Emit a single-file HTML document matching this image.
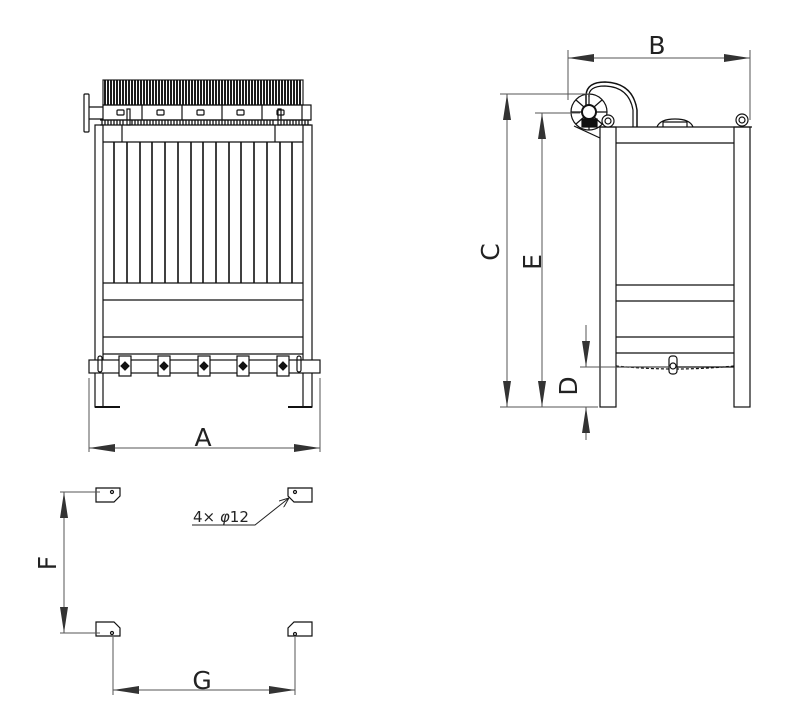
<!DOCTYPE html>
<html><head><meta charset="utf-8"><style>
html,body{margin:0;padding:0;background:#fff}
svg{display:block}
text{font-family:"DejaVu Sans","Liberation Sans",sans-serif;fill:#222}
</style></head><body>
<svg width="800" height="714" viewBox="0 0 800 714" xmlns="http://www.w3.org/2000/svg">
<defs>
<marker id="ar" markerWidth="26" markerHeight="8" refX="26" refY="4" orient="auto-start-reverse" markerUnits="userSpaceOnUse">
<path d="M0,0 L26,4 L0,8 Z" fill="#333"/></marker>
<marker id="sa" markerWidth="10" markerHeight="8" refX="10" refY="4" orient="auto" markerUnits="userSpaceOnUse">
<path d="M0,0 L10,4 L0,8" fill="none" stroke="#222" stroke-width="1"/></marker>
</defs>
<g fill="none" stroke="#111" stroke-width="1.2">
<!-- FRONT VIEW -->
<rect x="103" y="80" width="200" height="25" fill="#fff" stroke="#222"/>
<path d="M105,80 V105 M108,80 V105 M111,80 V105 M114,80 V105 M117,80 V105 M120,80 V105 M123,80 V105 M126,80 V105 M129,80 V105 M132,80 V105 M135,80 V105 M138,80 V105 M141,80 V105 M144,80 V105 M147,80 V105 M150,80 V105 M153,80 V105 M156,80 V105 M159,80 V105 M162,80 V105 M165,80 V105 M168,80 V105 M171,80 V105 M174,80 V105 M177,80 V105 M180,80 V105 M183,80 V105 M186,80 V105 M189,80 V105 M192,80 V105 M195,80 V105 M198,80 V105 M201,80 V105 M204,80 V105 M207,80 V105 M210,80 V105 M213,80 V105 M216,80 V105 M219,80 V105 M222,80 V105 M225,80 V105 M228,80 V105 M231,80 V105 M234,80 V105 M237,80 V105 M240,80 V105 M243,80 V105 M246,80 V105 M249,80 V105 M252,80 V105 M255,80 V105 M258,80 V105 M261,80 V105 M264,80 V105 M267,80 V105 M270,80 V105 M273,80 V105 M276,80 V105 M279,80 V105 M282,80 V105 M285,80 V105 M288,80 V105 M291,80 V105 M294,80 V105 M297,80 V105 M300,80 V105" stroke="#111" stroke-width="1.9"/>
<rect x="103" y="105" width="208" height="15"/>
<path d="M142,105V120 M182,105V120 M222,105V120 M262,105V120 M302,105V120"/>
<rect x="117" y="110" width="7" height="5" rx="1"/><rect x="157" y="110" width="7" height="5" rx="1"/><rect x="197" y="110" width="7" height="5" rx="1"/><rect x="237" y="110" width="7" height="5" rx="1"/><rect x="277" y="110" width="7" height="5" rx="1"/>
<rect x="127" y="109" width="3" height="16"/><rect x="278" y="109" width="3" height="16"/>
<path d="M100,120 H311 M100,125 H311" />
<path d="M102,120 V125 M105,120V125 M108,120V125 M111,120V125 M114,120V125 M117,120V125 M120,120V125 M123,120V125 M132,120V125 M135,120V125 M138,120V125 M141,120V125 M144,120V125 M147,120V125 M150,120V125 M153,120V125 M156,120V125 M159,120V125 M162,120V125 M165,120V125 M168,120V125 M171,120V125 M174,120V125 M177,120V125 M180,120V125 M183,120V125 M186,120V125 M189,120V125 M192,120V125 M195,120V125 M198,120V125 M201,120V125 M204,120V125 M207,120V125 M210,120V125 M213,120V125 M216,120V125 M219,120V125 M222,120V125 M225,120V125 M228,120V125 M231,120V125 M234,120V125 M237,120V125 M240,120V125 M243,120V125 M246,120V125 M249,120V125 M252,120V125 M255,120V125 M258,120V125 M261,120V125 M264,120V125 M267,120V125 M270,120V125 M273,120V125 M284,120V125 M287,120V125 M290,120V125 M293,120V125 M296,120V125 M299,120V125 M302,120V125 M305,120V125 M308,120V125" stroke-width="1.3"/>
<rect x="84" y="94" width="5" height="38" rx="1"/>
<path d="M89,107 H103 M89,119 H103"/>
<rect x="95" y="125" width="8" height="282"/><rect x="303" y="125" width="9" height="282"/>
<path d="M103,142 H303 M122,125 V142 M275,125 V142"/>
<path d="M114,142V283 M127,142V283 M140,142V283 M152,142V283 M165,142V283 M178,142V283 M191,142V283 M203,142V283 M216,142V283 M229,142V283 M241,142V283 M254,142V283 M267,142V283 M280,142V283 M292,142V283" stroke-width="1.6"/>
<path d="M103,283H303 M103,300H303 M103,337H303 M103,354H303"/>
<rect x="89" y="360" width="231" height="13" fill="#fff"/>
<rect x="98" y="356" width="4" height="16" rx="2"/><rect x="297" y="356" width="4" height="16" rx="2"/>
<g>
<rect x="119" y="356" width="12" height="20" fill="#fff"/><path d="M125,362 L129,366 L125,370 L121,366 Z" fill="#111"/>
<rect x="158" y="356" width="12" height="20" fill="#fff"/><path d="M164,362 L168,366 L164,370 L160,366 Z" fill="#111"/>
<rect x="198" y="356" width="12" height="20" fill="#fff"/><path d="M204,362 L208,366 L204,370 L200,366 Z" fill="#111"/>
<rect x="237" y="356" width="12" height="20" fill="#fff"/><path d="M243,362 L247,366 L243,370 L239,366 Z" fill="#111"/>
<rect x="277" y="356" width="12" height="20" fill="#fff"/><path d="M283,362 L287,366 L283,370 L279,366 Z" fill="#111"/>
</g>
<path d="M95,407H120 M288,407H312" stroke-width="2"/>
</g>
<g stroke="#555" stroke-width="1" fill="none">
<path d="M89,378 V452 M320,378 V452"/>
<path d="M89,448 H320" marker-start="url(#ar)" marker-end="url(#ar)"/>
</g>
<text x="203" y="446" font-size="25" text-anchor="middle">A</text>

<!-- SIDE VIEW -->
<g fill="none" stroke="#111" stroke-width="1.2">
<rect x="600" y="127" width="16" height="280"/><rect x="734" y="127" width="16" height="280"/>
<path d="M595,127 H752 M616,143 H734 M616,285 H734 M616,301 H734 M616,337 H734 M616,353 H734"/>
<circle cx="589" cy="112" r="18" fill="#fff"/>
<circle cx="589" cy="112" r="7" stroke-width="2"/>
<path d="M589,94 V105 M589,119 V130 M571,112 H582 M596,112 H607 M576,100 L584,107 M602,100 L594,107 M576,124 L584,117 M602,124 L594,117"/>
<rect x="582" y="119" width="15" height="8" fill="#111"/>
<path d="M586,105 V95 Q587,82 605,82 Q633,83 637,110 V127" stroke-width="1.5"/>
<path d="M589,97 Q588,86 605,86 Q629,87 633,110 V127"/>
<path d="M574,126 L600,138"/>
<circle cx="608" cy="121" r="6" fill="#fff"/><circle cx="608" cy="121" r="3"/>
<circle cx="742" cy="120" r="6" fill="#fff"/><circle cx="742" cy="120" r="3"/>
<path d="M657,127 Q660,119 675,119 Q690,119 693,127 M663,127 V122 H687 V127"/>
<path d="M616,366 Q675,372 734,366" stroke-dasharray="3,2"/>
<path d="M616,367 H734"/>
<rect x="669" y="356" width="8" height="18" rx="3" fill="#fff"/>
<circle cx="673" cy="366" r="3"/>
</g>
<g stroke="#555" stroke-width="1" fill="none">
<path d="M568,50 V100 M750,50 V120"/>
<path d="M568,58 H750" marker-start="url(#ar)" marker-end="url(#ar)"/>
<path d="M500,94 H590 M535,113 H580 M500,407 H598 M580,367 H670"/>
<path d="M507,94 V407" marker-start="url(#ar)" marker-end="url(#ar)"/>
<path d="M542,113 V407" marker-start="url(#ar)" marker-end="url(#ar)"/>
<path d="M586,325 V367" marker-end="url(#ar)"/>
<path d="M586,440 V407" marker-end="url(#ar)"/>
</g>
<text x="657" y="54" font-size="25" text-anchor="middle">B</text>
<text transform="translate(499,252) rotate(-90)" font-size="25" text-anchor="middle">C</text>
<text transform="translate(541,262) rotate(-90)" font-size="25" text-anchor="middle">E</text>
<text transform="translate(577,386) rotate(-90)" font-size="25" text-anchor="middle">D</text>

<!-- PLAN VIEW -->
<g fill="#fff" stroke="#111" stroke-width="1.2">
<path d="M96,488 H120 V496 L114,502 H96 Z"/>
<path d="M312,488 H288 V496 L294,502 H312 Z"/>
<path d="M96,636 H120 V628 L114,622 H96 Z"/>
<path d="M312,636 H288 V628 L294,622 H312 Z"/>
<circle cx="112" cy="492" r="1.5"/><circle cx="295" cy="492" r="1.5"/>
<circle cx="112" cy="633" r="1.5"/><circle cx="295" cy="634" r="1.5"/>
</g>
<g stroke="#555" stroke-width="1" fill="none">
<path d="M60,492 H100 M60,633 H100 M113,637 V695 M295,637 V695"/>
<path d="M64,492 V633" marker-start="url(#ar)" marker-end="url(#ar)"/>
<path d="M113,690 H295" marker-start="url(#ar)" marker-end="url(#ar)"/>
<path d="M192,525 H255 L289,498" stroke="#222" marker-end="url(#sa)"/>
</g>
<text transform="translate(56,563) rotate(-90)" font-size="25" text-anchor="middle">F</text>
<text x="202" y="689" font-size="25" text-anchor="middle">G</text>
<text x="193" y="522" font-size="15">4× <tspan font-style="italic">φ</tspan>12</text>
</svg>
</body></html>
